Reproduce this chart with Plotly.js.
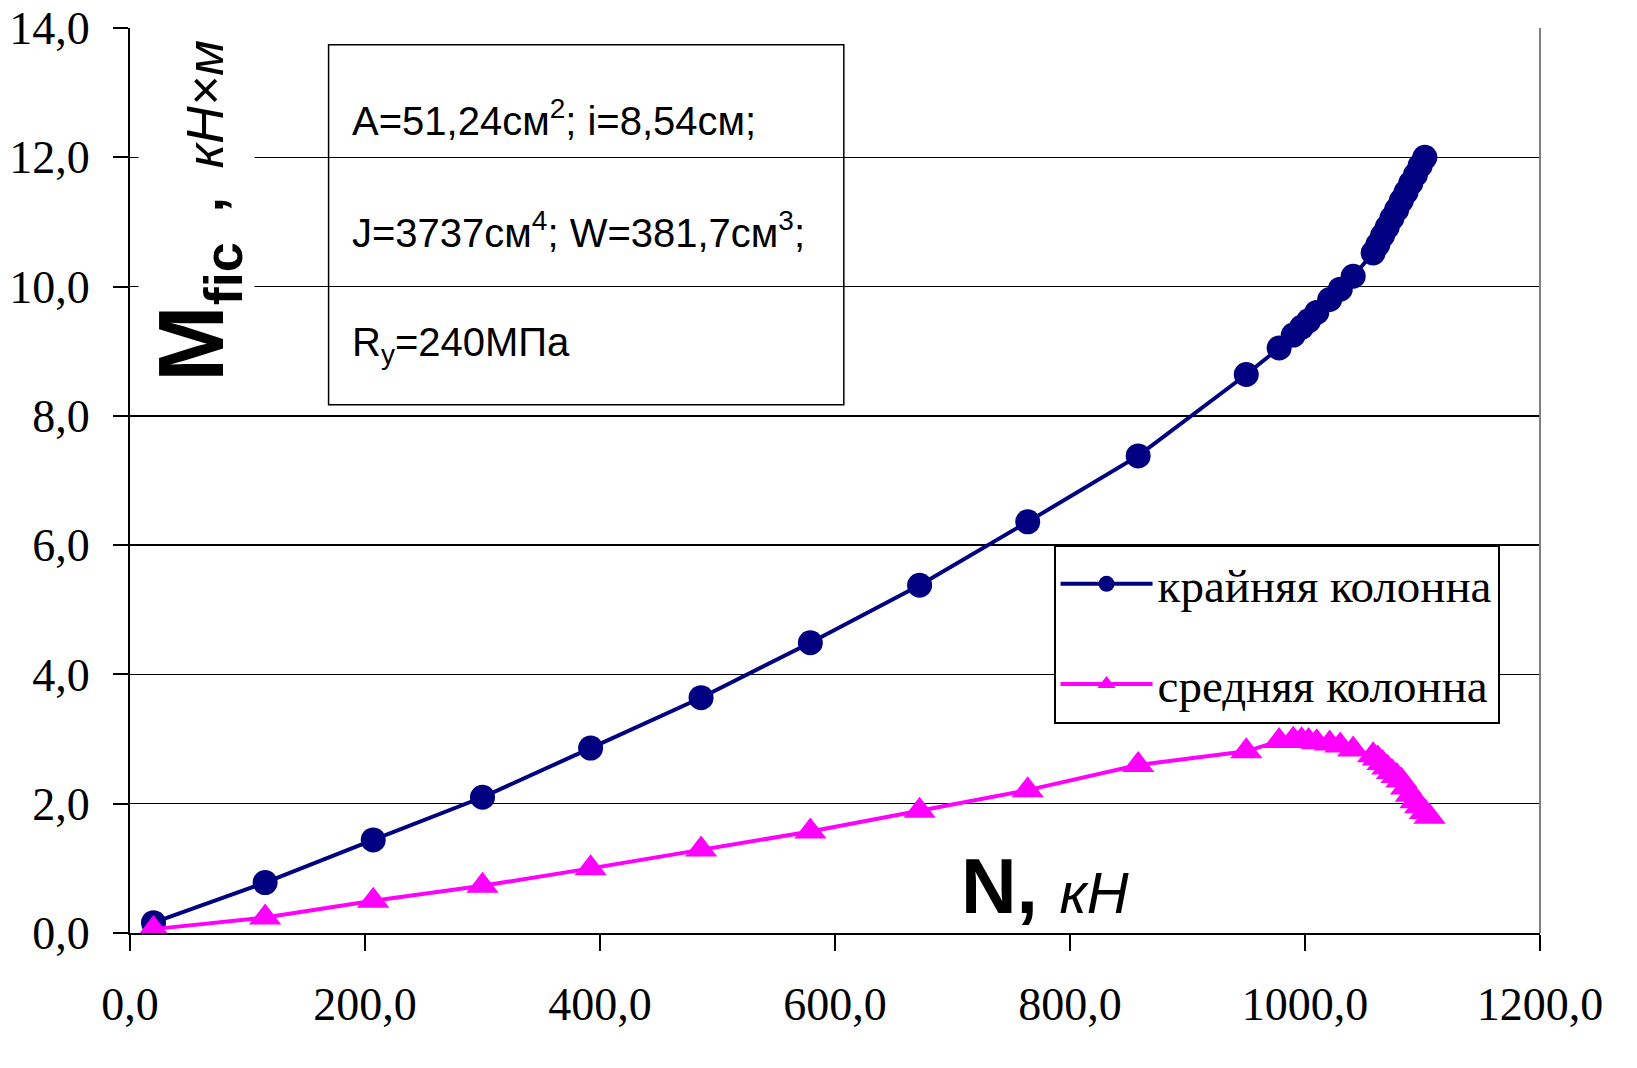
<!DOCTYPE html>
<html>
<head>
<meta charset="utf-8">
<script src="https://cdn.plot.ly/plotly-3.0.1.min.js"></script>
<style>html,body{margin:0;padding:0;background:#fff;}#chart{width:1637px;height:1068px;}</style>
</head>
<body>
<div id="chart"></div>
<script>
// Data
const seriesNames = ["крайняя колонна", "средняя колонна"];
const nEdge = [20, 115, 207, 300, 392, 486, 579, 672, 764, 858, 950, 978, 990, 997, 1003, 1010, 1021, 1030, 1041, 1058, 1062, 1066, 1070, 1074, 1078, 1082, 1086, 1090, 1094, 1098, 1102];
const mEdge = [0.16, 0.78, 1.44, 2.10, 2.86, 3.64, 4.49, 5.38, 6.36, 7.38, 8.64, 9.05, 9.25, 9.37, 9.47, 9.60, 9.80, 9.96, 10.16, 10.52, 10.65, 10.79, 10.92, 11.06, 11.19, 11.33, 11.46, 11.60, 11.73, 11.87, 12.00];
const nMid = [20, 115, 207, 300, 392, 486, 579, 672, 764, 858, 950, 978, 990, 997, 1003, 1010, 1021, 1030, 1041, 1058, 1062, 1066, 1070, 1074, 1078, 1082, 1086, 1090, 1094, 1098, 1102, 1106];
const mMid = [0.06, 0.24, 0.50, 0.73, 1.00, 1.29, 1.57, 1.89, 2.21, 2.60, 2.81, 2.97, 2.99, 2.98, 2.97, 2.95, 2.93, 2.90, 2.84, 2.75, 2.70, 2.63, 2.56, 2.49, 2.43, 2.36, 2.25, 2.14, 2.04, 1.96, 1.87, 1.80];
const xTicks = [0, 200, 400, 600, 800, 1000, 1200];
const yTicks = [0, 2, 4, 6, 8, 10, 12, 14];
const boxLines = ["A=51,24см<sup>2</sup>; i=8,54см;", "J=3737см<sup>4</sup>; W=381,7см<sup>3</sup>;", "R<sub>y</sub>=240МПа"];

const serif = "'Liberation Serif', 'Times New Roman', serif";
const sans = "'Liberation Sans', Arial, sans-serif";

const traces = [
  {
    x: nEdge, y: mEdge, name: seriesNames[0], type: 'scatter', mode: 'lines+markers',
    line: {color: '#000080', width: 4},
    marker: {symbol: 'circle', size: 25, color: '#000080'},
    legendgroup: 'a'
  },
  {
    x: nMid, y: mMid, name: seriesNames[1], type: 'scatter', mode: 'lines+markers',
    line: {color: '#FF00FF', width: 4},
    marker: {symbol: 'triangle-up', size: 28, color: '#FF00FF'},
    legendgroup: 'b'
  }
];

const annotations = [
  {
    xref: 'x', yref: 'y', x: 57, y: 11.17, textangle: -90, showarrow: false,
    bgcolor: '#ffffff',
    font: {family: sans, size: 92, color: '#000'},
    text: "<b>M<sub><span style='font-size:54px'>fic</span></sub><span style='font-size:54px'>  ,</span></b><span style='font-size:52px'>  <i>кН×м</i></span>"
  },
  {
    xref: 'x', yref: 'y', x: 779, y: 0.72, showarrow: false,
    font: {family: sans, size: 77, color: '#000'},
    text: "<b>N,</b> <span style='font-size:58px'><i>кН</i></span>"
  }
];
const boxY = [12.61, 10.88, 9.10];
boxLines.forEach((t, i) => {
  annotations.push({
    xref: 'x', yref: 'y', x: 187, y: boxY[i], xanchor: 'left', showarrow: false,
    font: {family: sans, size: 40, color: '#000'}, text: t
  });
});

const layout = {
  width: 1637, height: 1068,
  margin: {l: 130, r: 97, t: 28, b: 135},
  paper_bgcolor: '#fff', plot_bgcolor: '#fff',
  separators: ', ',
  showlegend: true,
  legend: {
    x: 0.655, y: 0.429, xanchor: 'left', yanchor: 'top',
    bgcolor: '#fff', bordercolor: '#000', borderwidth: 2,
    font: {family: serif, size: 47, color: '#000'},
    itemwidth: 92, tracegroupgap: 36
  },
  xaxis: {
    range: [0, 1200], tickvals: xTicks, tickformat: '.1f',
    ticks: 'outside', ticklen: 16, tickwidth: 2, tickcolor: '#000',
    showline: true, linecolor: '#000', linewidth: 2,
    showgrid: false, zeroline: false,
    tickfont: {family: serif, size: 46, color: '#000'},
    ticklabelstandoff: 14
  },
  yaxis: {
    range: [0, 14], tickvals: yTicks, tickformat: '.1f',
    ticks: 'outside', ticklen: 15, tickwidth: 2, tickcolor: '#000',
    showline: true, linecolor: '#000', linewidth: 2,
    showgrid: true, gridcolor: '#000', gridwidth: 1.5, zeroline: false,
    tickfont: {family: serif, size: 46, color: '#000'},
    ticklabelstandoff: 14
  },
  shapes: [
    {type: 'line', xref: 'paper', yref: 'paper', x0: 1, x1: 1, y0: 0, y1: 1, line: {color: '#808080', width: 2}},
    {type: 'rect', xref: 'x', yref: 'y', x0: 169, x1: 607.5, y0: 8.17, y1: 13.74, line: {color: '#000', width: 1.5}, fillcolor: 'rgba(0,0,0,0)'}
  ],
  annotations: annotations
};

Plotly.newPlot('chart', traces, layout, {displayModeBar: false, staticPlot: true});
</script>
</body>
</html>
